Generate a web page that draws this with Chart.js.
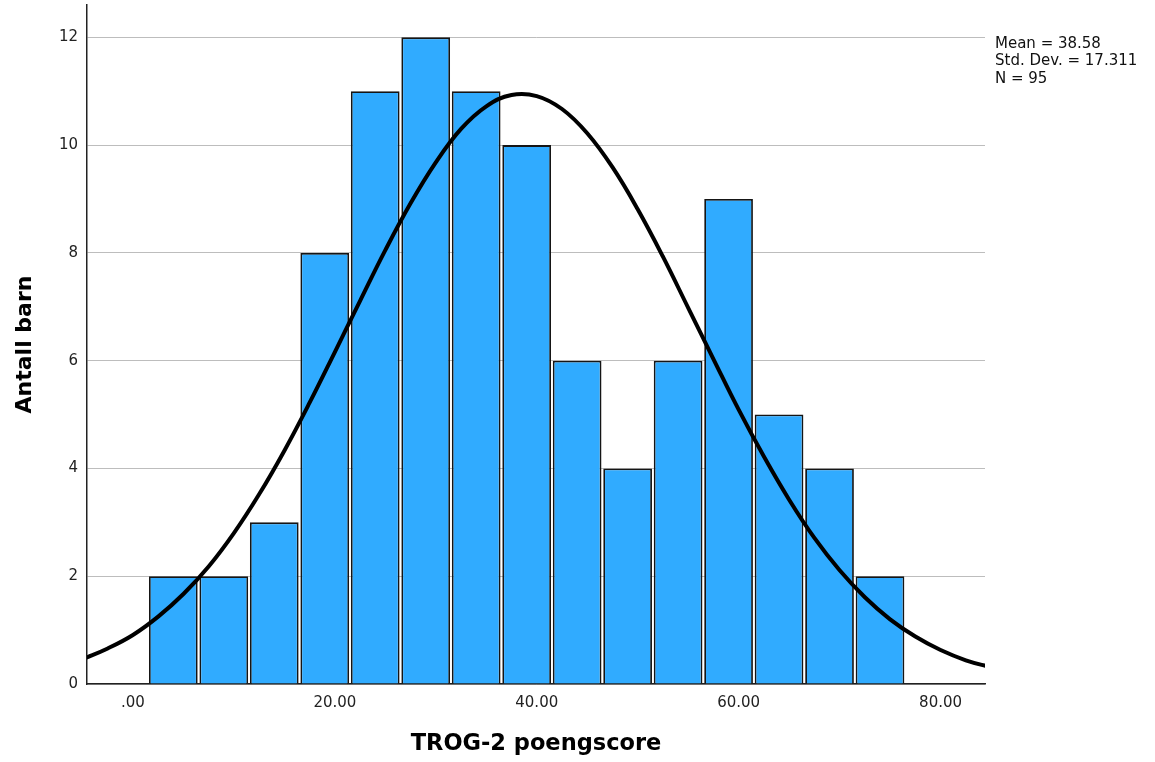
<!DOCTYPE html>
<html>
<head>
<meta charset="utf-8">
<script src="https://cdn.jsdelivr.net/npm/chart.js@4.4.1/dist/chart.umd.min.js"></script>
<style>
  html, body { margin: 0; padding: 0; background: #fff; }
  #wrap { width: 1155px; height: 762px; position: relative; }
</style>
</head>
<body>
<div id="wrap"><canvas id="myChart"></canvas></div>
<script>
// Histogram bins (width 5), centres and counts
var binCenters = [4, 9, 14, 19, 24, 29, 34, 39, 44, 49, 54, 59, 64, 69, 74];
var counts = [2, 2, 3, 8, 11, 12, 11, 10, 6, 4, 6, 9, 5, 4, 2];

// Normal curve, values
var curveX = [-5, -2.5, 0, 2.5, 5, 7.5, 10, 12.5, 15, 17.5, 20, 22.5, 25, 27.5, 30, 32.5, 35, 37.5,
  40, 42.5, 45, 47.5, 50, 52.5, 55, 57.5, 60, 62.5, 65, 67.5, 70, 72.5, 75, 77.5, 80, 82.5, 85];
var curveY = [0.46, 0.66, 0.91, 1.25, 1.67, 2.18, 2.80, 3.52, 4.33, 5.22, 6.16, 7.11, 8.05, 8.92, 9.68, 10.30, 10.72, 10.93,
  10.91, 10.67, 10.22, 9.59, 8.81, 7.93, 6.98, 6.03, 5.09, 4.22, 3.42, 2.71, 2.11, 1.61, 1.20, 0.88, 0.63, 0.44, 0.31];

var statsLines = ["Mean = 38.58", "Std. Dev. = 17.311", "N = 95"];
var xTitle = "TROG-2 poengscore";
var yTitle = "Antall barn";

var barData = binCenters.map(function (c, i) { return { x: c, y: counts[i] }; });
var curveData = curveX.map(function (x, i) { return { x: x, y: curveY[i] }; });

// Stats text to the right of the plot
var statsPlugin = {
  id: "stats",
  afterDraw: function (chart) {
    var ctx = chart.ctx;
    ctx.save();
    ctx.font = "15px 'DejaVu Sans'";
    ctx.fillStyle = "#111";
    ctx.textAlign = "left";
    ctx.textBaseline = "middle";
    statsLines.forEach(function (t, i) {
      ctx.fillText(t, chart.chartArea.right + 10, 44 + i * 17.5);
    });
    ctx.restore();
  }
};

function noPad(s) {
  s.paddingTop = 0;
  s.paddingBottom = 0;
  s.paddingLeft = 0;
  s.paddingRight = 0;
}

const config = {
  type: "bar",
  data: {
    datasets: [
      {
        type: "line",
        data: curveData,
        borderColor: "#000",
        borderWidth: 4,
        pointRadius: 0,
        tension: 0.4,
        fill: false,
        order: 0
      },
      {
        type: "bar",
        data: barData,
        backgroundColor: "#30abff",
        borderColor: "#151515",
        borderWidth: 1.8,
        barPercentage: 1,
        categoryPercentage: 0.965,
        order: 1
      }
    ]
  },
  options: {
    responsive: true,
    maintainAspectRatio: false,
    animation: false,
    layout: { padding: { left: 0, top: 5, right: 170, bottom: 0 } },
    plugins: {
      legend: { display: false },
      tooltip: { enabled: false }
    },
    scales: {
      x: {
        type: "linear",
        offset: false,
        min: -4.55,
        max: 84.4,
        afterFit: function (s) { s.height = 78; noPad(s); },
        grid: { display: false, drawTicks: false, offset: false },
        border: { display: true, color: "#222", width: 1.5 },
        ticks: {
          stepSize: 20,
          includeBounds: false,
          padding: 10,
          color: "#222",
          font: { family: "DejaVu Sans", size: 15 },
          callback: function (v) { return v.toFixed(2).replace(/^0\./, "."); }
        },
        title: {
          display: true,
          text: xTitle,
          color: "#000",
          font: { family: "DejaVu Sans", size: 22.5, weight: "bold" },
          padding: { top: 0, bottom: 4 }
        }
      },
      y: {
        min: 0,
        max: 12.6,
        afterFit: function (s) { s.width = 87; noPad(s); },
        grid: { color: "#bdbdbd", lineWidth: 1, drawTicks: false },
        border: { display: true, color: "#222", width: 1.5 },
        ticks: {
          stepSize: 2,
          includeBounds: false,
          padding: 9,
          color: "#222",
          font: { family: "DejaVu Sans", size: 15 }
        },
        title: {
          display: true,
          text: yTitle,
          color: "#000",
          font: { family: "DejaVu Sans", size: 22, weight: "bold" },
          padding: { top: 12, bottom: 0 }
        }
      }
    }
  },
  plugins: [statsPlugin]
};

const myChart = new Chart(document.getElementById("myChart").getContext("2d"), config);
</script>
</body>
</html>
